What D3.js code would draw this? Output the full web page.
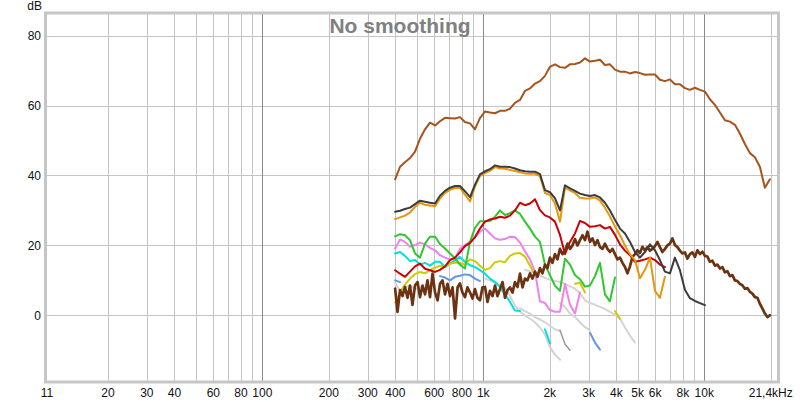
<!DOCTYPE html>
<html><head><meta charset="utf-8">
<script src="https://cdn.jsdelivr.net/npm/d3@7"></script>
<style>body{margin:0;background:#fff}svg{display:block}text{font-family:Arial,"Liberation Sans",sans-serif}</style>
</head><body><svg id="c" width="800" height="402"></svg>
<script>
// frequency grid (Hz), fine resolution for the noisy trace
const freqFine=[399,409,420,431,442,454,466,478,491,504,517,531,545,559,574,589,605,621,637,654,671,689,707,726,745,765,784,805,826,848,871,894,917,941,966,992,1018,1045,1072,1101,1130,1160,1190,1222,1254,1287,1321,1356,1391,1428,1466,1505,1544,1585,1627,1670,1714,1759,1805,1853,1902,1952,2003,2056,2110,2166,2224,2283,2343,2405,2468,2533,2600,2669,2739,2811,2886,2962,3040,3121,3203,3288,3375,3464,3554,3648,3744,3843,3945,4049,4156,4266,4378,4494,4612,4734,4859,4987,5117,5252,5393,5535,5681,5831,5984,6142,6303,6470,6641,6816,6996,7181,7369,7564,7762,7967,8179,8395,8616,8843,9076,9316,9561,9814,10074,10340,10612,10893,11180,11475,11780,12091,12410,12738,13070,13415,13770,14134,14500,14883,15280,15683,16100,16525,16960,17408,17860,18331,18820,19317,19830];
const freq=freqFine.filter((d,i)=>i%2===0);

const xTickValues=[11,20,30,40,60,80,100,200,300,400,600,800,1000,2000,3000,4000,5000,6000,8000,10000,20000];
const xTickLabels=["11","20","30","40","60","80","100","200","300","400","600","800","1k","2k","3k","4k","5k","6k","8k","10k","21,4kHz"];
const xGridMinor=[20,30,40,50,60,70,80,90,200,300,400,500,600,700,800,900,2000,3000,4000,5000,6000,7000,8000,9000,20000];
const xGridMajor=[100,1000,10000];
const yTickValues=[0,20,40,60,80];

const sienna=[38.9,42.5,43.8,45.0,46.8,50.5,53.2,55.1,54.3,55.5,56.5,56.4,56.3,56.7,55.3,54.9,53.2,56.4,58.3,58.0,57.8,58.5,58.5,59.1,60.8,61.6,64.2,64.9,66.3,67.0,68.5,71.1,71.8,71.0,70.8,71.8,71.9,72.3,73.5,72.6,72.8,73.1,71.6,71.8,70.3,69.7,69.7,69.2,69.6,69.3,68.8,68.9,68.9,67.4,67.0,67.5,66.1,66.1,65.0,64.5,65.1,64.5,64.0,61.8,60.2,58.0,55.8,55.4,54.5,52.0,49.0,46.4,45.2,42.5,36.5,38.9];
const darkGray=[29.6,29.9,30.4,30.8,31.8,32.8,32.5,32.2,32.0,34.2,35.6,36.5,37.0,37.0,35.5,33.8,37.4,40.3,41.2,41.8,42.9,42.5,42.5,42.4,42.0,41.5,41.2,41.1,41.1,40.4,35.8,35.2,33.5,30.0,37.2,36.3,35.6,34.8,34.4,34.1,34.4,33.7,32.2,30.0,27.3,24.8,23.4,21.0,18.1,16.5,18.1,20.3,18.6,15.8,12.5,12.0,16.5,12.9,7.3,4.9,4.1,3.5,2.9];
const orange=[27.5,28.0,28.5,29.4,31.0,32.2,31.6,31.4,31.2,33.4,35.0,35.9,36.4,36.5,34.5,32.6,36.8,39.8,40.7,41.3,42.4,42.0,41.9,41.6,41.3,40.9,40.6,40.5,40.5,39.8,35.0,34.4,32.0,26.8,36.6,35.7,35.0,33.6,33.4,33.4,33.7,32.8,30.8,28.3,25.4,22.9,20.0,17.5,15.8,10.6,13.0,16.5,7.0,5.0,11.0];
const red=[12.9,11.9,11.0,12.5,14.0,14.8,13.3,12.9,12.4,13.0,14.0,15.8,16.5,18.0,19.8,20.7,22.3,24.8,26.8,27.4,27.7,28.2,27.9,28.5,30.0,32.2,31.5,32.0,33.2,30.1,28.6,28.0,26.8,23.0,17.5,21.0,23.4,27.0,26.4,25.3,25.5,25.8,24.8,25.3,23.0,20.3,18.5,17.2,15.3,15.6,16.0,16.5,15.8,14.5,13.8];
const green=[22.6,23.2,22.9,21.5,17.7,16.5,20.5,22.5,22.5,20.4,19.1,17.7,16.3,14.5,13.4,21.0,25.0,26.9,26.9,27.0,28.2,30.0,28.7,29.2,30.0,29.0,26.8,24.8,22.5,21.0,14.5,11.5,8.5,7.0,16.2,14.5,11.5,10.3,8.2,8.5,11.2,15.0,6.0,4.0,10.8];
const violet=[19.1,21.7,21.0,19.6,20.1,20.8,20.3,19.3,18.6,17.2,16.5,16.0,16.3,19.0,20.1,21.0,22.4,23.9,24.8,23.4,22.0,21.6,21.8,22.5,22.4,20.8,18.3,16.0,12.5,4.0,3.5,1.5,1.0,1.0,9.0,3.0,0.5,6.5];
const yellowA=[3.6,6.5,8.8,10.5,11.8,12.4,12.0,13.0,13.6,14.2,14.0,14.8,15.0,15.0,14.5,16.0,15.5,14.2,13.0,13.5,15.2,15.5,15.2,17.0,17.7,17.8,16.8,14.2,11.5];
const yellowB=[9.0,9.3,6.5];
const yellowC=[1.2,-1.0];
const cyanA=[17.7,18.1,17.0,15.5,15.8,14.5,15.0,14.2,15.3,15.3,13.8,14.8,15.8,16.7,15.3,14.3,13.8,12.9,11.9,10.5,9.5,8.1,6.0,3.8,1.4,1.2];
const cyanB=[-4.0,-8.0];
const blueA=[10.0,9.5];
const blueB=[11.2,10.8,10.0,11.0,11.3,11.7,11.5,10.5,9.8];
const blueC=[-5.0,-7.8,-9.8];
const gray0=[9.2,7.0,8.0,8.5,7.5,8.0];
const gray1=[13.0,12.6,12.2,11.3,10.7,10.2,9.8,9.5,9.0,8.3,7.6,6.3,4.3,3.5,3.0,2.4,1.8,1.0,0.2,-0.9,-3.5,-5.8,-7.8];
const gray2=[10.5,10.0,9.3,8.6,7.8,5.5,2.8,1.0,0.0,-1.0,-2.0,-3.5,-5.5,-9.1,-11.2,-12.7];
const gray3=[2.0,1.2,0.5,-0.5,-1.2,-2.0,-3.0,-4.0,-4.5];
const gray4=[3.5,2.4,0.5,-0.5,-2.0,-3.4,-4.3];
const grayDark=[-4.3,-8.2,-10.0];
const brownNoise=[7.6,1.0,7.2,5.5,8.1,5.0,8.5,3.0,8.6,9.5,5.2,8.5,6.0,10.0,5.2,11.9,6.5,4.3,9.0,10.0,6.0,9.0,5.5,8.0,-0.9,8.0,9.1,6.5,5.2,8.0,6.5,4.8,7.5,5.0,4.3,8.0,8.1,3.8,7.0,5.5,8.5,5.5,7.5,9.5,5.0,7.2,8.0,6.5,9.5,8.1,11.9,8.0,10.5,10.0,12.0,10.5,12.5,11.0,13.5,12.0,14.5,13.5,16.5,15.0,17.5,16.0,19.0,17.5,18.5,20.5,19.0,20.0,21.8,20.0,21.5,22.9,21.5,23.9,21.0,22.0,20.1,21.5,19.5,19.0,20.5,19.0,18.1,19.0,17.5,16.0,16.5,15.0,13.8,12.0,14.0,16.7,17.5,18.6,17.8,19.6,18.5,19.5,18.5,19.0,19.8,21.0,19.5,18.1,19.0,20.0,20.5,22.0,20.1,19.5,18.5,17.7,18.0,16.2,17.5,18.0,16.7,18.6,17.5,18.2,17.0,16.8,15.3,15.6,14.2,14.5,13.4,13.8,12.3,12.6,11.2,11.5,10.0,9.8,9.0,8.6,7.6,7.8,6.7,6.2,5.2,5.0,3.3,2.0,0.5,-0.5,0.0];

// drawing order: back to front
const series=[
 {v:gray0,start:0,color:"#d4d4d4",w:2},
 {v:gray1,start:26,color:"#d4d4d4",w:2},
 {v:gray2,start:18,color:"#d4d4d4",w:2},
 {v:gray3,start:25,color:"#d4d4d4",w:2},
 {v:gray4,start:33,color:"#d4d4d4",w:2},
 {v:grayDark,start:33,color:"#9a9a9a",w:1.5},
 {v:blueA,start:0,color:"#6495ed",w:2},
 {v:blueB,start:9,color:"#6495ed",w:2},
 {v:blueC,start:39,color:"#6495ed",w:2},
 {v:cyanA,start:0,color:"#00e0e0",w:2},
 {v:cyanB,start:30,color:"#00e0e0",w:2},
 {v:yellowA,start:0,color:"#cccc00",w:2},
 {v:yellowB,start:36,color:"#cccc00",w:2},
 {v:yellowC,start:44,color:"#cccc00",w:2},
 {v:violet,start:0,color:"#ee82ee",w:2},
 {v:green,start:0,color:"#2ec82e",w:2},
 {v:red,start:0,color:"#cc0000",w:2},
 {fine:true,v:brownNoise,start:0,color:"#6b3312",w:2.7},
 {v:orange,start:0,color:"#e8960c",w:2},
 {v:darkGray,start:0,color:"#3c3c3c",w:2},
 {v:sienna,start:0,color:"#a5541c",w:2}
];

const L=47,R=777,T=14,B=381;
const x=d3.scaleLog().domain([10.6,21350]).range([L,R]);
const y=d3.scaleLinear().domain([-18.8,86.2]).range([B,T]);
const svg=d3.select("#c");

svg.append("defs").append("clipPath").attr("id","clip").append("rect")
  .attr("x",L).attr("y",T).attr("width",R-L).attr("height",B-T);

const grid=svg.append("g");
grid.selectAll(".gm").data(xGridMinor).join("line")
  .attr("x1",d=>Math.round(x(d))+0.5).attr("x2",d=>Math.round(x(d))+0.5)
  .attr("y1",T).attr("y2",B).attr("stroke","#c4c4c4").attr("stroke-width",1);
grid.selectAll(".gy").data(yTickValues).join("line")
  .attr("x1",L).attr("x2",R).attr("y1",d=>Math.round(y(d))+0.5).attr("y2",d=>Math.round(y(d))+0.5)
  .attr("stroke","#c4c4c4").attr("stroke-width",1);
grid.selectAll(".gM").data(xGridMajor).join("line")
  .attr("x1",d=>Math.round(x(d))+0.5).attr("x2",d=>Math.round(x(d))+0.5)
  .attr("y1",T).attr("y2",B).attr("stroke","#8a8a8a").attr("stroke-width",1);

const plot=svg.append("g").attr("clip-path","url(#clip)");
const line=d3.line().defined(d=>d.v!=null).x(d=>x(d.f)).y(d=>y(d.v));
series.forEach(s=>{
  const fr=s.fine?freqFine:freq;
  const data=s.v.map((v,i)=>({f:fr[s.start+i],v}));
  plot.append("path").datum(data).attr("d",line).attr("fill","none")
    .attr("stroke",s.color).attr("stroke-width",s.w)
    .attr("stroke-linejoin","round").attr("stroke-linecap","round");
});

// frame
svg.append("rect").attr("x",L-1.5).attr("y",T-1).attr("width",R-L+3).attr("height",B-T+2)
  .attr("fill","none").attr("stroke","#c6c6c6").attr("stroke-width",3);

// axis labels
svg.append("g").selectAll("text").data(xTickValues).join("text")
  .attr("x",(d,i)=>i===0?L:x(d)).attr("y",397).attr("text-anchor","middle")
  .attr("font-size",12).attr("fill","#111").text((d,i)=>xTickLabels[i]);
svg.append("g").selectAll("text").data(yTickValues).join("text")
  .attr("x",41).attr("y",d=>y(d)+4.5).attr("text-anchor","end")
  .attr("font-size",12).attr("fill","#111").text(d=>d);
svg.append("text").attr("x",42).attr("y",10).attr("text-anchor","end")
  .attr("font-size",12).attr("fill","#111").text("dB");
svg.append("text").attr("x",400).attr("y",33).attr("text-anchor","middle")
  .attr("font-size",21).attr("font-weight","bold").attr("fill","#808080").text("No smoothing");
</script></body></html>
